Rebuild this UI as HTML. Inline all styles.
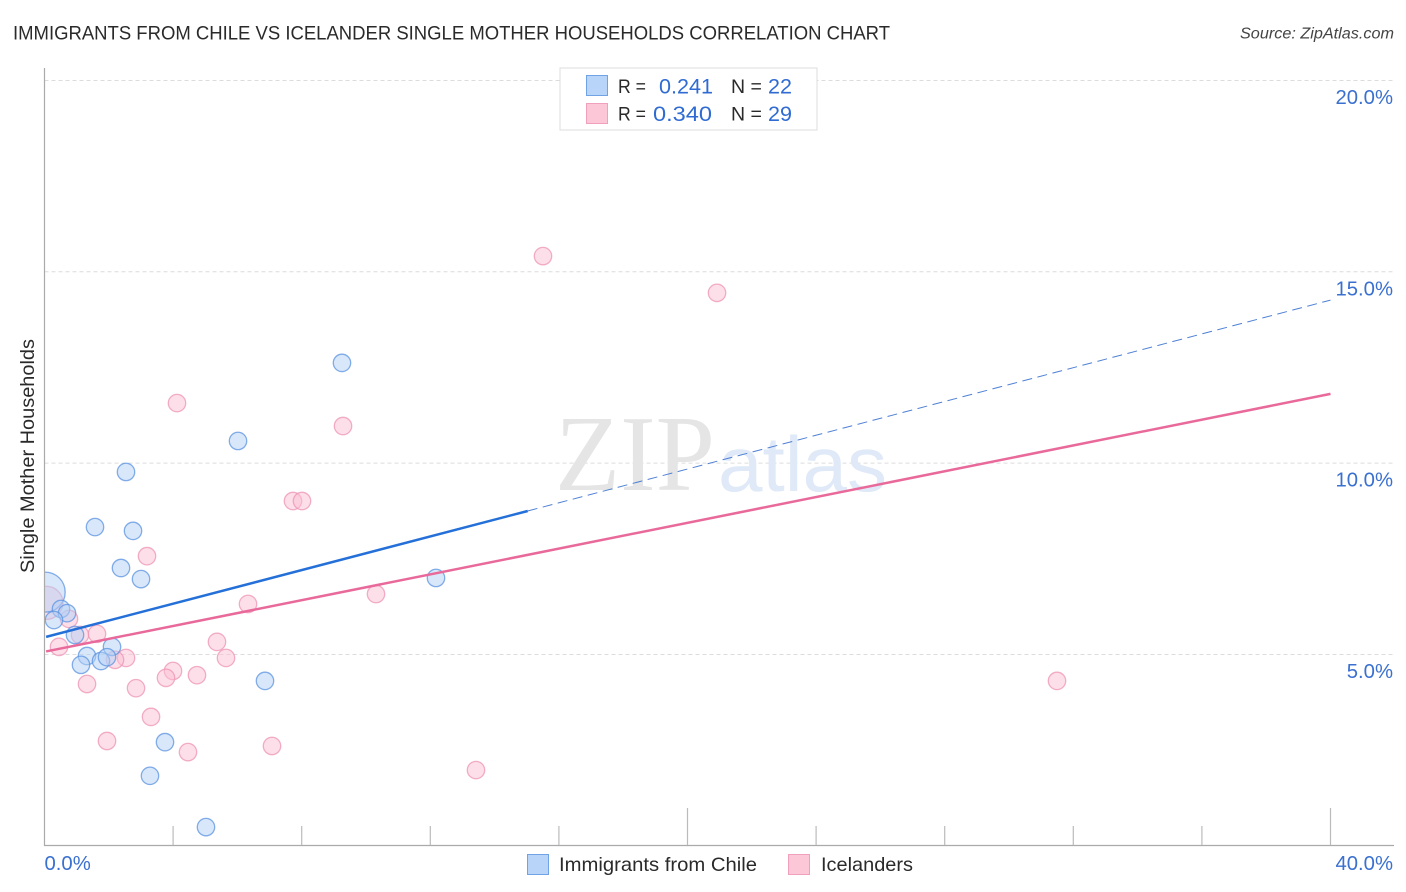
<!DOCTYPE html>
<html lang="en">
<head>
<meta charset="utf-8">
<title>Immigrants from Chile vs Icelander Single Mother Households Correlation Chart</title>
<style>
html,body{margin:0;padding:0;background:#fff;}
#chart{display:block;font-family:"Liberation Sans",sans-serif;}
</style>
</head>
<body>
<svg id="chart" width="1406" height="892" viewBox="0 0 1406 892" xmlns="http://www.w3.org/2000/svg">
  <text x="13" y="39.5" font-size="19.5" fill="#2a2a2a" textLength="877" lengthAdjust="spacingAndGlyphs">IMMIGRANTS FROM CHILE VS ICELANDER SINGLE MOTHER HOUSEHOLDS CORRELATION CHART</text>
  <text x="1394" y="38.5" font-size="15.5" font-style="italic" fill="#444" text-anchor="end" textLength="154" lengthAdjust="spacingAndGlyphs">Source: ZipAtlas.com</text>

  <g id="grid"></g>

  <g>
    <text x="555" y="490" font-family="'Liberation Serif',serif" font-size="108" fill="#e5e5e5" textLength="160" lengthAdjust="spacingAndGlyphs">ZIP</text>
    <text x="718" y="491" font-size="78" fill="#dfe9f7" textLength="169" lengthAdjust="spacingAndGlyphs">atlas</text>
  </g>

  <g id="points"></g>
  <rect x="0" y="60" width="44.5" height="786" fill="#fff"/>
  <g id="trends"></g>
  <g id="axes"></g>
  <g id="tick-labels"></g>

  <text transform="translate(34,456) rotate(-90)" font-size="19" fill="#2a2a2a" text-anchor="middle" textLength="234" lengthAdjust="spacingAndGlyphs">Single Mother Households</text>

  <g>
    <rect x="560" y="68" width="257" height="62" fill="#fff" stroke="#dedede" stroke-width="1"/>
    <rect x="586.5" y="75.5" width="21" height="20" fill="#b8d4f8" stroke="#6fa3e6"/>
    <rect x="586.5" y="103.5" width="21" height="20" fill="#fcc8d8" stroke="#f0a0bd"/>
    <text x="618" y="93" font-size="19.5" fill="#2a2a2a" textLength="28" lengthAdjust="spacingAndGlyphs">R =</text>
    <text x="659" y="93.5" font-size="21.5" fill="#2f6bd2" textLength="54" lengthAdjust="spacingAndGlyphs">0.241</text>
    <text x="731" y="93" font-size="19.5" fill="#2a2a2a">N =</text>
    <text x="768" y="93.5" font-size="21.5" fill="#2f6bd2" textLength="24" lengthAdjust="spacingAndGlyphs">22</text>
    <text x="618" y="120.5" font-size="19.5" fill="#2a2a2a" textLength="28" lengthAdjust="spacingAndGlyphs">R =</text>
    <text x="653" y="121" font-size="21.5" fill="#2f6bd2" textLength="59" lengthAdjust="spacingAndGlyphs">0.340</text>
    <text x="731" y="120.5" font-size="19.5" fill="#2a2a2a">N =</text>
    <text x="768" y="121" font-size="21.5" fill="#2f6bd2" textLength="24" lengthAdjust="spacingAndGlyphs">29</text>
  </g>

  <g>
    <rect x="527.5" y="854.5" width="21" height="20" fill="#b8d4f8" stroke="#6fa3e6"/>
    <text x="559" y="871" font-size="19.5" fill="#2a2a2a" textLength="198" lengthAdjust="spacingAndGlyphs">Immigrants from Chile</text>
    <rect x="788.5" y="854.5" width="21" height="20" fill="#fcc8d8" stroke="#f0a0bd"/>
    <text x="821" y="871" font-size="19.5" fill="#2a2a2a" textLength="92" lengthAdjust="spacingAndGlyphs">Icelanders</text>
  </g>
</svg>

<script>
const xTickValues = [0, 4, 8, 12, 16, 20, 24, 28, 32, 36, 40];
const xLabelValues = [0, 40];
const xLabels = ['0.0%', '40.0%'];
const yTickValues = [5, 10, 15, 20];
const yLabels = ['5.0%', '10.0%', '15.0%', '20.0%'];

const chileX = [2.535, 1.571, 2.753, 2.379, 3.002, 6.019, 9.253, 12.177, 0.02, 0.513, 0.70, 0.295, 0.949, 2.10, 1.322, 1.757, 1.944, 1.135, 6.858, 3.748, 3.281, 5.023];
const chileY = [9.77, 8.33, 8.23, 7.26, 6.97, 10.58, 12.62, 7.00, 6.63, 6.19, 6.08, 5.90, 5.51, 5.20, 4.96, 4.83, 4.93, 4.73, 4.31, 2.71, 1.83, 0.49];
const chileWeight = [1, 1, 1, 1, 1, 1, 1, 1, 5.3, 1, 1, 1, 1, 1, 1, 1, 1, 1, 1, 1, 1, 1];

const icelandX = [15.505, 20.918, 4.121, 9.285, 7.729, 8.009, 3.188, 10.311, 6.33, 0.06, 0.762, 1.104, 1.633, 0.451, 5.365, 2.535, 2.193, 5.645, 3.997, 4.743, 3.779, 1.322, 2.846, 3.313, 1.944, 4.463, 7.076, 13.421, 31.493];
const icelandY = [15.41, 14.45, 11.57, 10.97, 9.01, 9.01, 7.57, 6.58, 6.32, 6.35, 5.93, 5.51, 5.54, 5.20, 5.33, 4.91, 4.86, 4.91, 4.57, 4.46, 4.39, 4.23, 4.12, 3.37, 2.74, 2.45, 2.61, 1.98, 4.31];
const icelandWeight = [1, 1, 1, 1, 1, 1, 1, 1, 1, 3.6, 1, 1, 1, 1, 1, 1, 1, 1, 1, 1, 1, 1, 1, 1, 1, 1, 1, 1, 1];

const chileTrendX = [0.05, 15.03];
const chileTrendY = [5.46, 8.75];
const chileForecastX = [15.03, 40];
const chileForecastY = [8.75, 14.26];
const icelandTrendX = [0.05, 40];
const icelandTrendY = [5.08, 11.81];

const NS = 'http://www.w3.org/2000/svg';
function xScale(v) { return 44.5 + v * 32.15; }
function yScale(v) { return 654.5 - (v - 5) * 38.27; }
function rScale(w) { return 8.7 * Math.sqrt(w); }
function make(parent, tag, attrs) {
  const el = document.createElementNS(NS, tag);
  Object.keys(attrs).forEach(function (k) { el.setAttribute(k, attrs[k]); });
  parent.appendChild(el);
  return el;
}

const grid = document.getElementById('grid');
yTickValues.forEach(function (v) {
  const g = make(grid, 'line', { x1: 44.5, x2: 1393, y1: yScale(v), y2: yScale(v), stroke: '#dcdcdc', 'stroke-width': 1, 'stroke-dasharray': '4 3' });
  
  
});

const points = document.getElementById('points');
function drawSeries(xs, ys, ws, fill, stroke, name) {
  xs.forEach(function (x, i) {
    const c = make(points, 'circle', { cx: xScale(x), cy: yScale(ys[i]), r: rScale(ws[i]), fill: fill, 'fill-opacity': 0.5, stroke: stroke, 'stroke-opacity': 0.75, 'stroke-width': 1.3 });
    
    
  });
}
drawSeries(icelandX, icelandY, icelandWeight, '#fbc0d4', '#ee94b4', 'point-icelanders');
drawSeries(chileX, chileY, chileWeight, '#b2cff5', '#5b93e0', 'point-chile');

const trends = document.getElementById('trends');
const forecast = make(trends, 'line', { x1: xScale(chileForecastX[0]), y1: yScale(chileForecastY[0]), x2: xScale(chileForecastX[1]), y2: yScale(chileForecastY[1]), stroke: '#4f80d4', 'stroke-width': 1, 'stroke-dasharray': '10 5.5' });


const trendIceland = make(trends, 'line', { x1: xScale(icelandTrendX[0]), y1: yScale(icelandTrendY[0]), x2: xScale(icelandTrendX[1]), y2: yScale(icelandTrendY[1]), stroke: '#e8699a', 'stroke-width': 2.5 });


const trendChile = make(trends, 'line', { x1: xScale(chileTrendX[0]), y1: yScale(chileTrendY[0]), x2: xScale(chileTrendX[1]), y2: yScale(chileTrendY[1]), stroke: '#2470d8', 'stroke-width': 2.5 });



const axes = document.getElementById('axes');
const yAxis = make(axes, 'line', { x1: 44.5, x2: 44.5, y1: 68, y2: 846, stroke: '#aaa', 'stroke-width': 1.2 });


const xAxis = make(axes, 'line', { x1: 44, x2: 1394, y1: 845.5, y2: 845.5, stroke: '#aaa', 'stroke-width': 1.2 });


xTickValues.forEach(function (v, i) {
  if (i === 0) return;
  const top = (i % 5 === 0) ? 808 : 826;
  const t = make(axes, 'line', { x1: xScale(v), x2: xScale(v), y1: top, y2: 845, stroke: '#bbb', 'stroke-width': 1.2 });
  
  
});

const tickLabels = document.getElementById('tick-labels');
yTickValues.forEach(function (v, i) {
  const t = make(tickLabels, 'text', { x: 1393, y: yScale(v) + 23.5, 'font-size': 20.3, fill: '#3a70d0', 'text-anchor': 'end' });
  
  
  t.textContent = yLabels[i];
});
xLabelValues.forEach(function (v, i) {
  const attrs = i === 0
    ? { x: xScale(v), y: 870, 'font-size': 20.3, fill: '#3a70d0' }
    : { x: 1393, y: 870, 'font-size': 20.3, fill: '#3a70d0', 'text-anchor': 'end' };
  const t = make(tickLabels, 'text', attrs);
  
  
  t.textContent = xLabels[i];
});
</script>
</body>
</html>
